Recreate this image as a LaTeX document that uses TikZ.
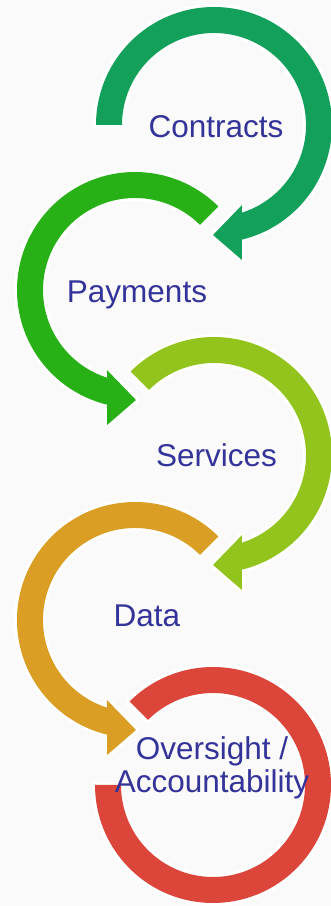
\documentclass[tikz,border=0pt]{standalone}
\usepackage{fontspec}
\setmainfont{Liberation Sans}
\definecolor{bgcol}{RGB}{250,250,250}
\definecolor{cA}{RGB}{19,160,91}
\definecolor{cB}{RGB}{39,177,23}
\definecolor{cC}{RGB}{147,196,30}
\definecolor{cD}{RGB}{217,158,35}
\definecolor{cE}{RGB}{220,69,57}
\definecolor{txt}{RGB}{51,51,153}
\newcommand\Ro{118}
\newcommand\Ri{92}
% clockwise ring ending in an arrow at the bottom
\newcommand\cwring[3]{%
  \fill[ring, fill=#3] ([shift={(#2:\Ro)}]#1) arc[start angle=#2, end angle=-76.3, radius=\Ro]
    -- ([shift={(-78.3:137.9)}]#1) -- ([shift={(-90.5:110)}]#1) -- ([shift={(-70.7:84.8)}]#1)
    -- ([shift={(-72.3:\Ri)}]#1) arc[start angle=-72.3, end angle=#2, radius=\Ri] -- cycle;}
% counter-clockwise ring ending in an arrow at the bottom
\newcommand\ccwring[3]{%
  \fill[ring, fill=#3] ([shift={(#2:\Ro)}]#1) arc[start angle=#2, end angle=256.3, radius=\Ro]
    -- ([shift={(258.3:137.9)}]#1) -- ([shift={(270.5:110)}]#1) -- ([shift={(250.7:84.8)}]#1)
    -- ([shift={(252.3:\Ri)}]#1) arc[start angle=252.3, end angle=#2, radius=\Ri] -- cycle;}
\tikzset{
  ring/.style={preaction={draw=white, line width=6pt, line join=round}},
  label/.style={text=txt, font=\fontsize{31.5}{33}\selectfont, inner sep=0pt, anchor=base, align=center},
}
\begin{document}
\begin{tikzpicture}[x=1pt,y=1pt]
  \fill[bgcol] (0,0) rectangle (331,906);
  \useasboundingbox (0,0) rectangle (331,906);
  \coordinate (c1) at (214,781);
  \coordinate (c2) at (135,616);
  \coordinate (c3) at (214,451);
  \coordinate (c4) at (135,286);
  \coordinate (c5) at (213,121);
  \cwring{c1}{180}{cA}
  \ccwring{c2}{45}{cB}
  \cwring{c3}{135}{cC}
  \ccwring{c4}{45}{cD}
  \fill[ring, fill=cE] ([shift={(135:\Ro)}]c5) arc[start angle=135, end angle=-180, radius=\Ro]
    -- ([shift={(180:\Ri)}]c5) arc[start angle=-180, end angle=135, radius=\Ri] -- cycle;
  \node[label] (t1) at (216,768) {Contracts};
  \node[label] (t2) at (137,603) {Payments};
  \node[label] (t3) at (216.5,439) {Services};
  \node[label] (t4) at (147,279) {Data};
  \node[label] (t5a) at (212,146) {Oversight /};
  \node[label] (t5b) at (212,113) {Accountability};
\end{tikzpicture}
\end{document}
